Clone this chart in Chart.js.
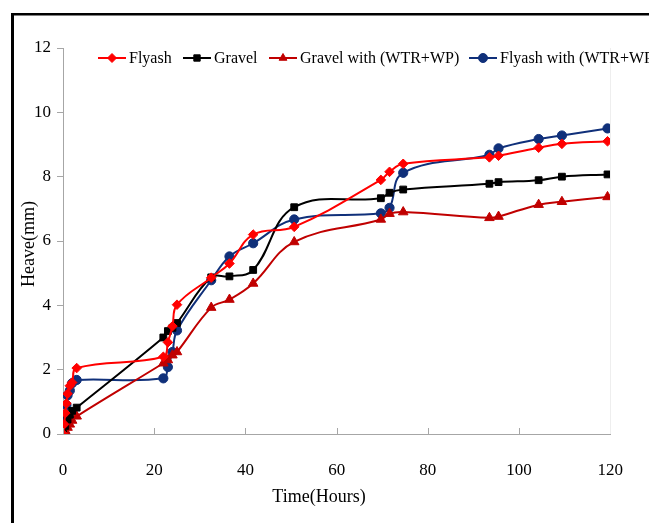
<!DOCTYPE html>
<html>
<head>
<meta charset="utf-8">
<title>Heave vs Time</title>
<script src="https://cdn.jsdelivr.net/npm/chart.js@4/dist/chart.umd.min.js"></script>
<style>
  html, body { margin: 0; padding: 0; background: #ffffff; }
  #wrap { position: relative; width: 649px; height: 523px; }
</style>
</head>
<body>
<div id="wrap"><canvas id="heave" width="649" height="523"></canvas></div>
<script>
// Heave (mm) measured over time (hours) for four fill materials
const flyashHours = [0, 0.25, 0.5, 0.75, 1, 1.5, 2, 3, 22, 23, 24, 25, 32.5, 36.5, 41.7, 50.7, 69.7, 71.6, 74.6, 93.5, 95.5, 104.3, 109.4, 119.4];
const flyashHeave = [0, 0.3, 0.65, 0.95, 1.25, 1.5, 1.6, 2.05, 2.4, 2.85, 3.35, 4.02, 4.86, 5.3, 6.2, 6.44, 7.9, 8.15, 8.4, 8.6, 8.65, 8.9, 9.02, 9.1];

const gravelHours = [0, 0.5, 1, 1.5, 2, 3, 22, 23, 24, 25, 32.5, 36.5, 41.7, 50.7, 69.7, 71.6, 74.6, 93.5, 95.5, 104.3, 109.4, 119.4];
const gravelHeave = [0, 0.25, 0.45, 0.6, 0.72, 0.82, 3.0, 3.2, 3.3, 3.45, 4.87, 4.9, 5.1, 7.05, 7.33, 7.5, 7.6, 7.78, 7.83, 7.89, 8.0, 8.07];

const gravelWtrHours = [0, 0.5, 1, 1.5, 2, 3, 22, 23, 24, 25, 32.5, 36.5, 41.7, 50.7, 69.7, 71.6, 74.6, 93.5, 95.5, 104.3, 109.4, 119.4];
const gravelWtrHeave = [0, 0.1, 0.2, 0.3, 0.42, 0.55, 2.2, 2.3, 2.45, 2.55, 3.93, 4.18, 4.68, 5.97, 6.67, 6.85, 6.9, 6.72, 6.76, 7.13, 7.22, 7.37];

const flyashWtrHours = [0, 0.25, 0.5, 0.75, 1, 1.5, 2, 3, 22, 23, 24, 25, 32.5, 36.5, 41.7, 50.7, 69.7, 71.6, 74.6, 93.5, 95.5, 104.3, 109.4, 119.4];
const flyashWtrHeave = [0, 0.3, 0.6, 0.9, 1.2, 1.35, 1.58, 1.68, 1.73, 2.08, 2.55, 3.22, 4.78, 5.52, 5.93, 6.67, 6.86, 7.03, 8.12, 8.68, 8.88, 9.17, 9.28, 9.5];

const seriesNames = ['Flyash', 'Gravel', 'Gravel with (WTR+WP)', 'Flyash with (WTR+WP)'];
const xTickValues = [0, 20, 40, 60, 80, 100, 120];
const yTickValues = [0, 2, 4, 6, 8, 10, 12];

const SERIF = "'Liberation Serif', 'Times New Roman', serif";

function pairs(xs, ys) {
  return xs.map((x, i) => ({ x: x, y: ys[i] }));
}

function series(label, xs, ys, color, style, radius) {
  return {
    label: label,
    data: pairs(xs, ys),
    borderColor: color,
    backgroundColor: color,
    pointBackgroundColor: color,
    pointBorderColor: color,
    pointStyle: style,
    pointRadius: radius,
    pointHoverRadius: radius,
    pointBorderWidth: 1,
    borderWidth: 2,
    tension: 0.4,
    fill: false
  };
}

const datasets = [
  series(seriesNames[0], flyashHours, flyashHeave, '#ff0000', 'rectRot', 4.8),
  series(seriesNames[1], gravelHours, gravelHeave, '#000000', 'rect', 4.8),
  series(seriesNames[2], gravelWtrHours, gravelWtrHeave, '#c00000', 'triangle', 5.5),
  series(seriesNames[3], flyashWtrHours, flyashWtrHeave, '#10307a', 'circle', 4.6)
];

// Thick outer frame (left and top edges)
const framePlugin = {
  id: 'frame',
  beforeDraw(chart) {
    const ctx = chart.ctx;
    ctx.save();
    ctx.fillStyle = '#000000';
    ctx.fillRect(11, 13, 3, chart.height - 13);
    ctx.fillRect(11, 13, chart.width - 11, 2.5);
    ctx.restore();
  }
};

// Inside tick marks on the time axis and a faint right edge
const xTickPlugin = {
  id: 'xInsideTicks',
  afterDraw(chart) {
    const ctx = chart.ctx;
    const xs = chart.scales.x;
    const area = chart.chartArea;
    ctx.save();
    ctx.strokeStyle = '#a6a6a6';
    ctx.lineWidth = 1;
    xTickValues.forEach(v => {
      const px = Math.round(xs.getPixelForValue(v)) + 0.5;
      ctx.beginPath();
      ctx.moveTo(px, area.bottom);
      ctx.lineTo(px, area.bottom - 6);
      ctx.stroke();
    });
    ctx.strokeStyle = '#eeeeee';
    const rx = Math.round(area.right) + 0.5;
    ctx.beginPath();
    ctx.moveTo(rx, area.top);
    ctx.lineTo(rx, area.bottom);
    ctx.stroke();
    ctx.restore();
  }
};

// Axis titles
const titlePlugin = {
  id: 'axisTitles',
  afterDraw(chart) {
    const ctx = chart.ctx;
    ctx.save();
    ctx.fillStyle = '#000000';
    ctx.font = '18px ' + SERIF;
    ctx.textAlign = 'center';
    ctx.textBaseline = 'middle';
    ctx.fillText('Time(Hours)', 319, 497);
    ctx.translate(29, 244);
    ctx.rotate(-Math.PI / 2);
    ctx.fillText('Heave(mm)', 0, 0);
    ctx.restore();
  }
};

// Legend row: line sample with marker, then the series name
const legendPlugin = {
  id: 'lineLegend',
  afterDraw(chart) {
    const ctx = chart.ctx;
    const y = 58;
    const starts = [98, 183, 269, 469];
    const segLen = 28;
    ctx.save();
    ctx.font = '16px ' + SERIF;
    ctx.textBaseline = 'middle';
    ctx.textAlign = 'left';
    chart.data.datasets.forEach((ds, i) => {
      const x0 = starts[i];
      ctx.strokeStyle = ds.borderColor;
      ctx.lineWidth = 2;
      ctx.beginPath();
      ctx.moveTo(x0, y);
      ctx.lineTo(x0 + segLen, y);
      ctx.stroke();
      ctx.fillStyle = ds.pointBackgroundColor;
      ctx.strokeStyle = ds.pointBorderColor;
      ctx.lineWidth = 1;
      Chart.helpers.drawPoint(ctx, {
        pointStyle: ds.pointStyle,
        radius: Math.min(ds.pointRadius, 4.5),
        rotation: 0,
        borderWidth: 1
      }, x0 + segLen / 2, y);
      ctx.fillStyle = '#000000';
      ctx.fillText(ds.label, x0 + segLen + 3, y + 1);
    });
    ctx.restore();
  }
};

new Chart(document.getElementById('heave'), {
  type: 'line',
  data: { datasets: datasets },
  options: {
    responsive: false,
    animation: false,
    events: [],
    layout: { padding: { left: 0, top: 48, right: 37, bottom: 0 } },
    plugins: {
      legend: { display: false },
      tooltip: { enabled: false }
    },
    scales: {
      x: {
        type: 'linear',
        min: 0,
        max: 120,
        afterBuildTicks(scale) {
          scale.ticks = xTickValues.map(v => ({ value: v }));
        },
        afterFit(scale) { scale.height = 89; },
        grid: { display: false, drawTicks: false },
        border: { display: true, color: '#a6a6a6', width: 1 },
        ticks: {
          padding: 26,
          color: '#000000',
          font: { family: SERIF, size: 17 },
          maxRotation: 0
        }
      },
      y: {
        type: 'linear',
        min: 0,
        max: 12,
        afterBuildTicks(scale) {
          scale.ticks = yTickValues.map(v => ({ value: v }));
        },
        afterFit(scale) { scale.width = 63; },
        grid: { drawOnChartArea: false, drawTicks: true, tickLength: 6, color: '#a6a6a6' },
        border: { display: true, color: '#a6a6a6', width: 1 },
        ticks: {
          padding: 6,
          color: '#000000',
          font: { family: SERIF, size: 17 }
        }
      }
    }
  },
  plugins: [framePlugin, xTickPlugin, titlePlugin, legendPlugin]
});
</script>
</body>
</html>
